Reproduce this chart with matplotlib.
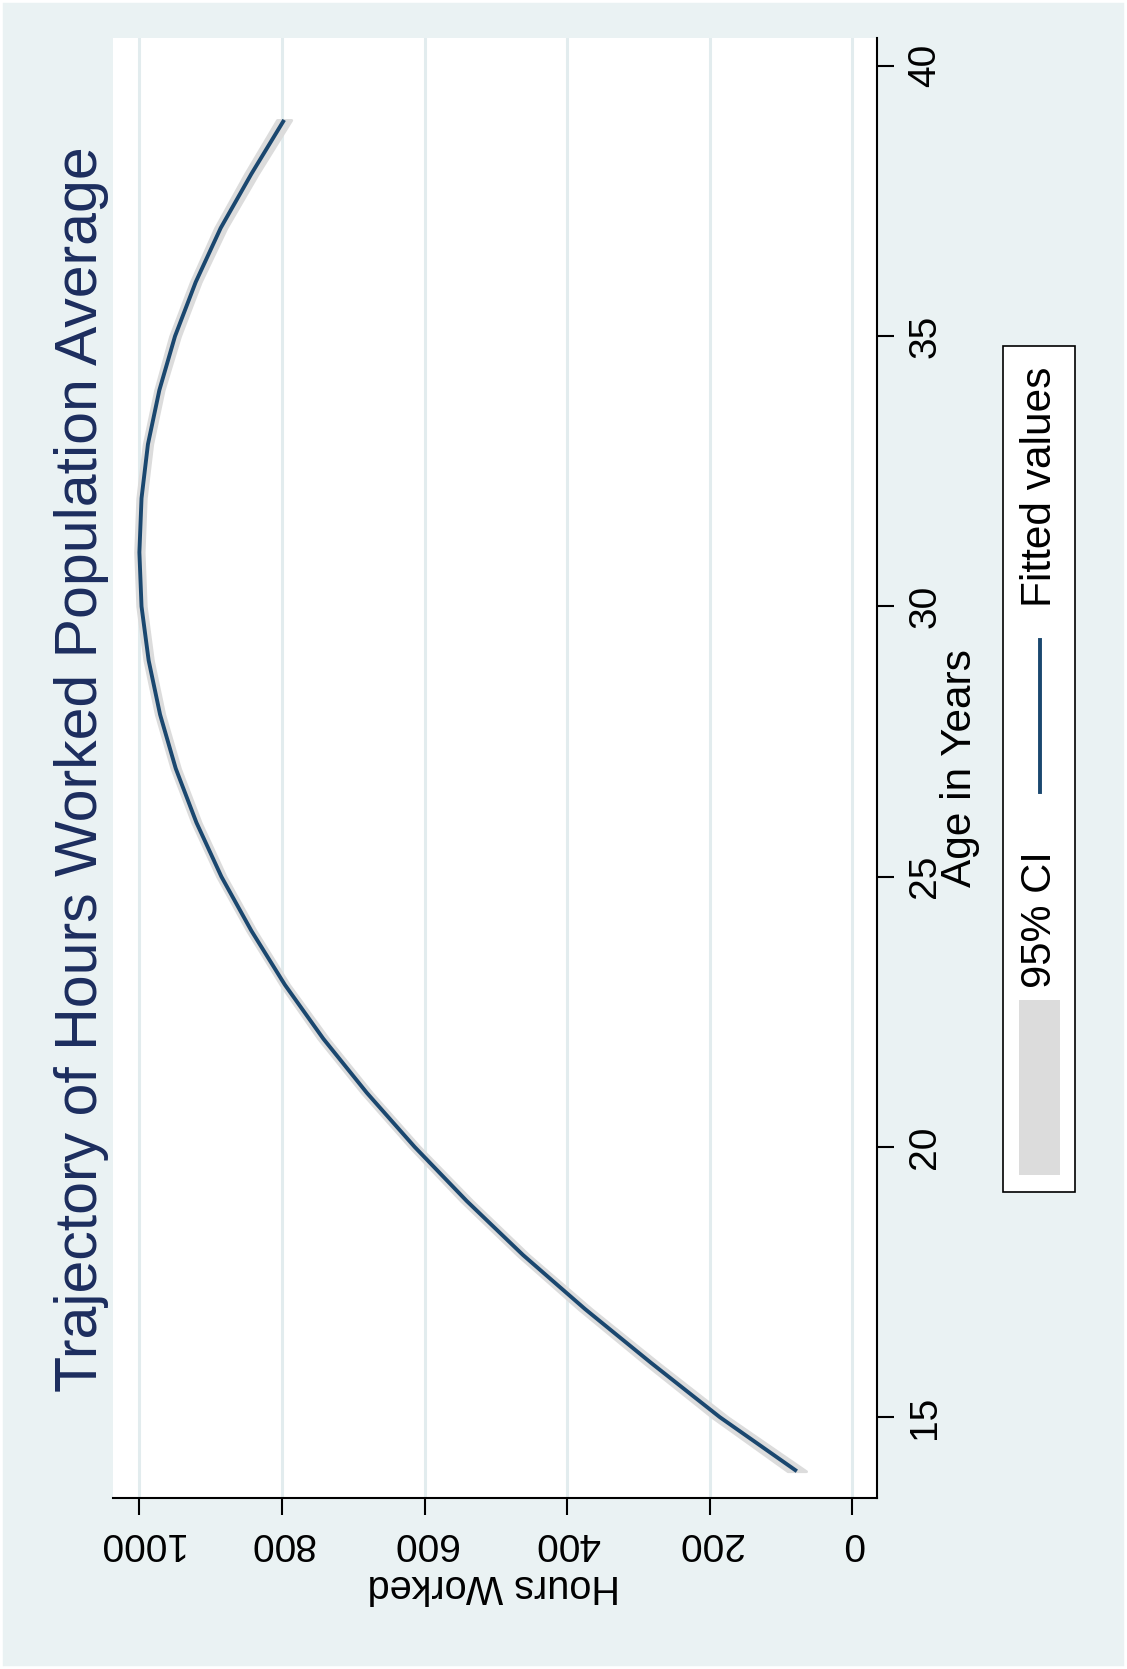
import matplotlib
matplotlib.use('Agg')
import matplotlib.pyplot as plt
from matplotlib.patches import Rectangle
from matplotlib.lines import Line2D

plt.rcParams['font.family'] = ['Liberation Sans', 'DejaVu Sans']

# Quadratic fit of hours worked on age, with its 95% band
age = [14, 15, 16, 17, 18, 19, 20, 21, 22, 23, 24, 25, 26,
       27, 28, 29, 30, 31, 32, 33, 34, 35, 36, 37, 38, 39]
fitted = [78, 186, 282, 375, 462, 541, 614, 681, 742, 796, 843, 885, 920,
          949, 971, 987, 997, 1000, 997, 988, 972, 950, 921, 886, 843, 797]
ci_low = [65, 175, 272, 366, 454, 533, 607, 674, 735, 790, 837, 879, 914,
          943, 965, 981, 991, 994, 991, 982, 966, 943, 914, 878, 834, 787]
ci_high = [91, 197, 292, 384, 470, 549, 621, 688, 749, 802, 849, 891, 926,
           955, 977, 993, 1003, 1006, 1003, 994, 978, 957, 928, 894, 852, 807]

hour_ticks = [0, 200, 400, 600, 800, 1000]
age_ticks = [15, 20, 25, 30, 35, 40]

TITLE = 'Trajectory of Hours Worked Population Average'
BG = '#eaf2f3'
NAVY = '#1a476f'
TITLE_COLOR = '#1c2d5e'
CI_GREY = '#dcdcdc'

W, H = 1127, 1669


def fx(px):
    return px / W


def fy(py):
    return 1 - py / H


fig = plt.figure(figsize=(W / 100, H / 100), dpi=100)
fig.patch.set_facecolor(BG)
# thin white frame round the graph region
fig.patches.append(Rectangle((0, 0), 1, 1, transform=fig.transFigure,
                             fill=False, edgecolor='white', linewidth=4,
                             zorder=-5))

# the graph is laid out sideways: age runs up the page, hours run right-to-left
ax = fig.add_axes([fx(113), fy(1497.7), (876.7 - 113) / W, (1497.7 - 38.3) / H])
ax.set_facecolor('white')

ax.fill_betweenx(age, ci_low, ci_high, facecolor=CI_GREY, edgecolor=CI_GREY,
                 linewidth=2.0, zorder=2)
ax.plot(fitted, age, color=NAVY, linewidth=2.8, solid_capstyle='butt',
        solid_joinstyle='round', zorder=3)

ax.set_xlim(1037, -34)
ax.set_ylim(13.51, 40.51)

ax.spines['top'].set_visible(False)
ax.spines['left'].set_visible(False)
for side in ('bottom', 'right'):
    ax.spines[side].set_linewidth(1.5)
    ax.spines[side].set_color('black')

ax.yaxis.tick_right()
ax.set_xticks(hour_ticks)
ax.set_yticks(age_ticks)
ax.tick_params(axis='both', length=12, width=1.5, direction='out', labelsize=28)
ax.tick_params(axis='x', labelrotation=180, pad=8)
ax.tick_params(axis='y', labelrotation=90, pad=10)
for lab in ax.get_yticklabels():
    lab.set_va('center')
    lab.set_ha('left')

ax.grid(axis='x', color='#e2ecee', linewidth=2.2)
ax.grid(axis='y', visible=False)
ax.set_axisbelow(True)

# titles
fig.text(fx(54), fy(769), TITLE, rotation=90, ha='left', va='center',
         fontsize=42.5, color=TITLE_COLOR)
fig.text(fx(960), fy(768), 'Age in Years', rotation=90, ha='center',
         va='center', fontsize=30.5)
fig.text(fx(494), fy(1586), 'Hours Worked', rotation=180, ha='center',
         va='center', fontsize=28.5)

# legend box, drawn by hand so it can sit sideways
fig.patches.append(Rectangle((fx(1002.5), fy(1192)), 72.5 / W, 846 / H,
                             transform=fig.transFigure, facecolor='white',
                             edgecolor='black', linewidth=1.2, zorder=2))
fig.patches.append(Rectangle((fx(1019), fy(1175)), 41 / W, 175 / H,
                             transform=fig.transFigure, facecolor=CI_GREY,
                             edgecolor='none', zorder=3))
fig.lines.append(Line2D([fx(1039.5), fx(1039.5)], [fy(792), fy(640)],
                        transform=fig.transFigure, color=NAVY,
                        linewidth=2.8, zorder=3))
fig.text(fx(1040), fy(920), '95% CI', rotation=90, ha='center', va='center',
         fontsize=30, zorder=4)
fig.text(fx(1040), fy(487), 'Fitted values', rotation=90, ha='center',
         va='center', fontsize=30.5, zorder=4)

fig.savefig('out.png', dpi=100, facecolor=fig.get_facecolor())
